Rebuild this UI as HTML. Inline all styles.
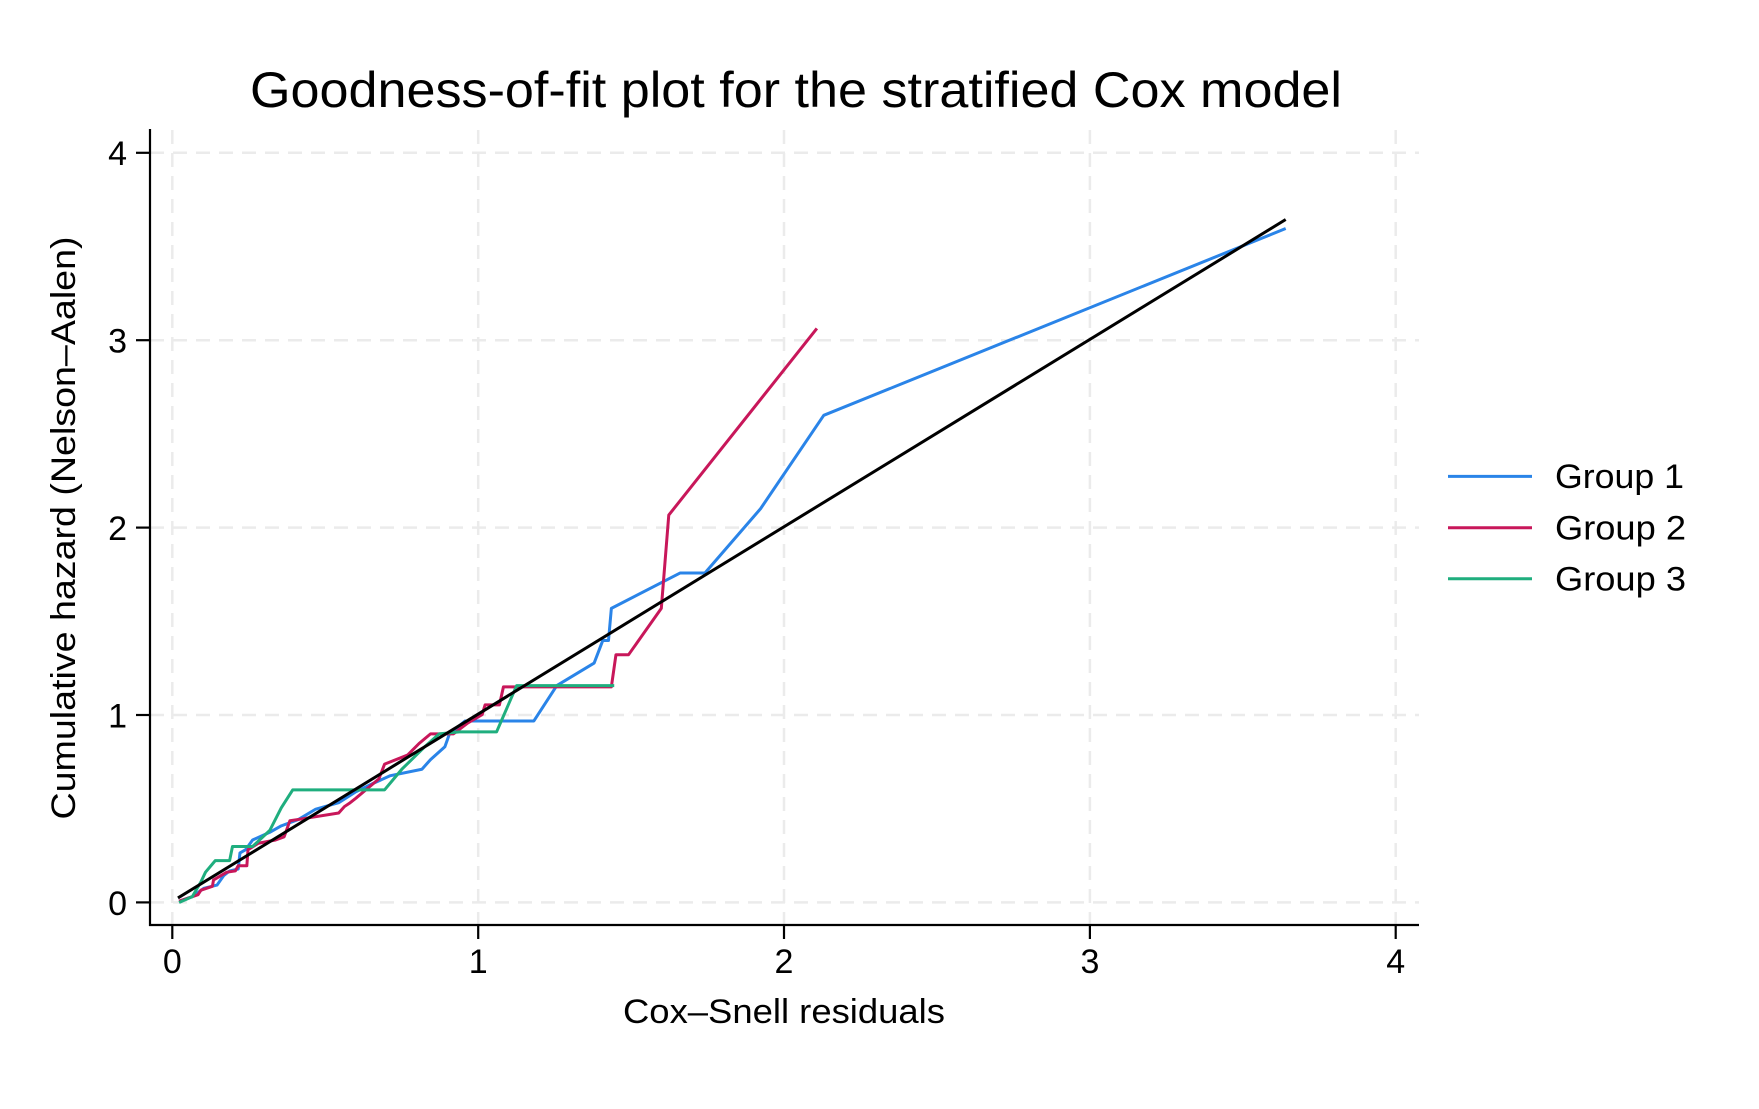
<!DOCTYPE html>
<html><head><meta charset="utf-8"><style>
html,body{margin:0;padding:0;background:#fff;}
svg{display:block;font-family:"Liberation Sans",Arial,sans-serif;}
</style></head><body>
<svg width="1759" height="1109" viewBox="0 0 1759 1109" xmlns="http://www.w3.org/2000/svg">
<rect width="1759" height="1109" fill="#fff"/>
<!-- grid -->
<g stroke="#ebebeb" stroke-width="2.5" stroke-dasharray="14,9" fill="none">
<line x1="150" y1="152.8" x2="1419" y2="152.8"/>
<line x1="150" y1="340.2" x2="1419" y2="340.2"/>
<line x1="150" y1="527.6" x2="1419" y2="527.6"/>
<line x1="150" y1="715" x2="1419" y2="715"/>
<line x1="150" y1="902.4" x2="1419" y2="902.4"/>
<line x1="172.3" y1="130" x2="172.3" y2="925"/>
<line x1="478.2" y1="130" x2="478.2" y2="925"/>
<line x1="784" y1="130" x2="784" y2="925"/>
<line x1="1089.9" y1="130" x2="1089.9" y2="925"/>
<line x1="1395.7" y1="130" x2="1395.7" y2="925"/>
</g>
<!-- axes -->
<g stroke="#000" stroke-width="2.2" fill="none">
<line x1="150" y1="129" x2="150" y2="926"/>
<line x1="149" y1="925" x2="1419" y2="925"/>
<line x1="172.3" y1="925" x2="172.3" y2="939"/>
<line x1="478.2" y1="925" x2="478.2" y2="939"/>
<line x1="784" y1="925" x2="784" y2="939"/>
<line x1="1089.9" y1="925" x2="1089.9" y2="939"/>
<line x1="1395.7" y1="925" x2="1395.7" y2="939"/>
<line x1="136" y1="152.8" x2="150" y2="152.8"/>
<line x1="136" y1="340.2" x2="150" y2="340.2"/>
<line x1="136" y1="527.6" x2="150" y2="527.6"/>
<line x1="136" y1="715" x2="150" y2="715"/>
<line x1="136" y1="902.4" x2="150" y2="902.4"/>
</g>
<g font-size="34" fill="#000">
<g text-anchor="middle">
<text x="172.3" y="973">0</text>
<text x="478.2" y="973">1</text>
<text x="784" y="973">2</text>
<text x="1089.9" y="973">3</text>
<text x="1395.7" y="973">4</text>
</g>
<g text-anchor="end">
<text x="127" y="165">4</text>
<text x="127" y="352.5">3</text>
<text x="127" y="540">2</text>
<text x="127" y="727.5">1</text>
<text x="127" y="915">0</text>
</g>
</g>
<text x="796" y="107" font-size="50" text-anchor="middle" textLength="1092" lengthAdjust="spacingAndGlyphs">Goodness-of-fit plot for the stratified Cox model</text>
<text x="784" y="1023" font-size="34" text-anchor="middle" textLength="322" lengthAdjust="spacingAndGlyphs">Cox–Snell residuals</text>
<text transform="translate(75,528) rotate(-90)" font-size="34" text-anchor="middle" textLength="583" lengthAdjust="spacingAndGlyphs">Cumulative hazard (Nelson–Aalen)</text>
<!-- series -->
<g transform="matrix(0.57405,0,0,0.64350,0,100)" fill="none" stroke-width="3" stroke-linejoin="round">
<polyline vector-effect="non-scaling-stroke" stroke="#2a84e8" points="312,1245 335,1238 355,1225 378,1220 390,1205 400,1198 415,1195 418,1170 428,1165 440,1150 470,1138 490,1128 520,1118 550,1102 590,1092 620,1075 650,1062 680,1050 735,1040 750,1025 775,1005 783,985 810,965 930,965 970,910 1035,875 1050,840 1060,840 1065,790 1185,735 1228,735 1325,635 1435,490 2239.7,199.7"/>
<polyline vector-effect="non-scaling-stroke" stroke="#c8175a" points="312,1245 345,1235 350,1228 370,1222 372,1212 395,1200 410,1198 415,1190 430,1190 432,1165 450,1155 480,1150 495,1145 505,1120 520,1118 590,1108 600,1098 610,1092 620,1085 660,1055 670,1032 710,1018 730,1000 750,985 790,985 815,968 840,955 845,940 870,940 877,912 1065,912 1073,862 1095,862 1152,790 1165,645 1423,355"/>
<polyline vector-effect="non-scaling-stroke" stroke="#1fae7e" points="312,1247 335,1238 350,1215 358,1200 375,1182 400,1182 405,1160 440,1160 470,1135 490,1100 510,1072 670,1072 700,1040 740,1005 765,985 800,982 865,982 900,910 1070,910"/>
<line vector-effect="non-scaling-stroke" stroke="#000" x1="310" y1="1240" x2="2239.7" y2="185.7"/>
</g>
<!-- legend -->
<g stroke-width="3">
<line x1="1448" y1="476.4" x2="1532" y2="476.4" stroke="#2a84e8"/>
<line x1="1448" y1="527.8" x2="1532" y2="527.8" stroke="#c8175a"/>
<line x1="1448" y1="578.8" x2="1532" y2="578.8" stroke="#1fae7e"/>
</g>
<g font-size="34" fill="#000">
<text x="1555" y="488" textLength="129" lengthAdjust="spacingAndGlyphs">Group 1</text>
<text x="1555" y="539.5" textLength="131" lengthAdjust="spacingAndGlyphs">Group 2</text>
<text x="1555" y="590.5" textLength="131" lengthAdjust="spacingAndGlyphs">Group 3</text>
</g>
</svg>
</body></html>
